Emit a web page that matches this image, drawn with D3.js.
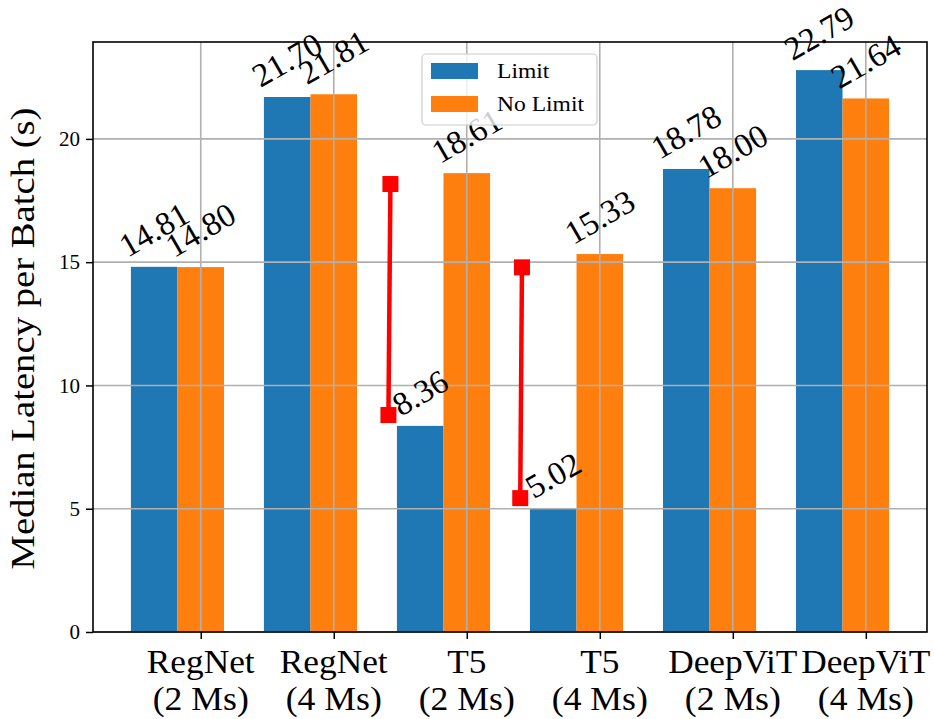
<!DOCTYPE html>
<html>
<head>
<meta charset="utf-8">
<script src="https://cdn.jsdelivr.net/npm/d3@7"></script>
<style>
  html, body { margin: 0; padding: 0; background: #fff; }
  svg text { font-family: "Liberation Serif", "Times New Roman", serif !important; fill: #000; }
</style>
</head>
<body>
<svg id="chart" width="934" height="719"></svg>
<script>
// ---- data ----
const categories = ["RegNet", "RegNet", "T5", "T5", "DeepViT", "DeepViT"];
const subLabels = ["(2 Ms)", "(4 Ms)", "(2 Ms)", "(4 Ms)", "(2 Ms)", "(4 Ms)"];
const seriesNames = ["Limit", "No Limit"];
const limitValues = [14.81, 21.70, 8.36, 5.02, 18.78, 22.79];
const noLimitValues = [14.80, 21.81, 18.61, 15.33, 18.00, 21.64];
const yTicks = [0, 5, 10, 15, 20];
// red annotation segments: [x_top, y_top, x_bottom, y_bottom] in data units
const redSegments = [
  [1.426, 18.17, 1.411, 8.80],
  [2.415, 14.79, 2.402, 5.43]
];

// ---- layout ----
const svg = d3.select("#chart");
const pL = 93, pR = 927, pT = 42, pB = 632;
const barW = 0.35;
const x = d3.scaleLinear().domain([-0.81, 5.46]).range([pL, pR]);
const y = d3.scaleLinear().domain([0, 23.93]).range([pB, pT]);
const colors = ["#1f77b4", "#ff7f0e"];
const series = [limitValues, noLimitValues];
const offsets = [-0.525, -0.175];
const FONT = '"Liberation Serif", "Times New Roman", serif';

// bars
series.forEach((vals, s) => {
  svg.append("g").selectAll("rect").data(vals).join("rect")
    .attr("x", (d, i) => x(i + offsets[s]))
    .attr("width", (d, i) => x(i + offsets[s] + barW) - x(i + offsets[s]))
    .attr("y", d => y(d))
    .attr("height", d => y(0) - y(d))
    .attr("fill", colors[s]);
});

// grid (drawn above bars)
const grid = svg.append("g");
grid.selectAll("line.gy").data(yTicks).join("line")
  .attr("x1", pL).attr("x2", pR)
  .attr("y1", d => y(d)).attr("y2", d => y(d))
  .attr("stroke", "#b0b0b0").attr("stroke-width", 1.6);
grid.selectAll("line.gx").data(categories.map((c, i) => i)).join("line")
  .attr("x1", d => x(d)).attr("x2", d => x(d))
  .attr("y1", pT).attr("y2", pB)
  .attr("stroke", "#b0b0b0").attr("stroke-width", 1.6);

// axes
const yAxis = d3.axisLeft(y).tickValues(yTicks).tickSize(7).tickPadding(6).tickFormat(d3.format("d"));
const gy = svg.append("g").attr("transform", `translate(${pL},0)`).call(yAxis)
  .attr("font-family", FONT).attr("font-size", 21);
gy.select(".domain").remove();
gy.selectAll(".tick line").attr("stroke", "#000").attr("stroke-width", 1.5);
gy.selectAll(".tick text").style("font-family", FONT).style("font-size", "21px");

const xAxis = d3.axisBottom(x).tickValues(categories.map((c, i) => i)).tickSize(7).tickFormat("");
const gx = svg.append("g").attr("transform", `translate(0,${pB})`).call(xAxis);
gx.select(".domain").remove();
gx.selectAll(".tick line").attr("stroke", "#000").attr("stroke-width", 1.5);

// x tick labels (two lines), slightly widened to mimic Computer Modern widths
const xl = svg.append("g");
function stretched(g, tx, ty, str, size, k) {
  const t = g.append("text").attr("x", tx).attr("y", ty).attr("text-anchor", "middle")
    .attr("font-size", size).text(str);
  const L = t.node().getComputedTextLength();
  t.attr("textLength", L * k).attr("lengthAdjust", "spacingAndGlyphs");
  return t;
}
categories.forEach((c, i) => {
  stretched(xl, x(i), 673, c, 33, 1.07);
  stretched(xl, x(i), 710, subLabels[i], 33, 1.08);
});

// frame
svg.append("rect").attr("x", pL).attr("y", pT)
  .attr("width", pR - pL).attr("height", pB - pT)
  .attr("fill", "none").attr("stroke", "#000").attr("stroke-width", 1.6);

// y label
svg.append("text")
  .attr("transform", `translate(23,${(107 + 570) / 2}) rotate(-90)`)
  .attr("text-anchor", "middle").attr("dominant-baseline", "central")
  .attr("font-size", 33).attr("textLength", 462).attr("lengthAdjust", "spacingAndGlyphs")
  .text("Median Latency per Batch (s)");

// value labels (rotated 30°)
const ang = 30 * Math.PI / 180;
const lab = svg.append("g");
const LFS = 33;
series.forEach((vals, s) => {
  vals.forEach((v, i) => {
    const cx = x(i + offsets[s] + barW / 2);
    const t = lab.append("text").attr("font-size", LFS)
      .attr("text-anchor", "middle").attr("dominant-baseline", "central")
      .text(v.toFixed(2));
    const L = t.node().getComputedTextLength();
    const h = 0.66 * LFS;
    const halfH = (L * Math.sin(ang) + h * Math.cos(ang)) / 2;
    const cy = y(v) - 9 - halfH;
    t.attr("transform", `translate(${cx},${cy}) rotate(-30)`);
  });
});

// red annotation segments
const red = svg.append("g");
redSegments.forEach(sg => {
  red.append("line")
    .attr("x1", x(sg[0])).attr("y1", y(sg[1]))
    .attr("x2", x(sg[2])).attr("y2", y(sg[3]))
    .attr("stroke", "#ff0000").attr("stroke-width", 4.5);
  [[sg[0], sg[1]], [sg[2], sg[3]]].forEach(p => {
    red.append("rect")
      .attr("x", x(p[0]) - 8).attr("y", y(p[1]) - 8)
      .attr("width", 16).attr("height", 16).attr("fill", "#ff0000");
  });
});

// legend
const lg = svg.append("g");
lg.append("rect").attr("x", 422).attr("y", 54).attr("width", 175).attr("height", 71)
  .attr("rx", 4).attr("fill", "#fff").attr("fill-opacity", 0.8)
  .attr("stroke", "#cccccc").attr("stroke-width", 1.2);
seriesNames.forEach((n, k) => {
  const yy = 63 + k * 33;
  lg.append("rect").attr("x", 431).attr("y", yy).attr("width", 47).attr("height", 16)
    .attr("fill", colors[k]);
  stretched(lg, 0, yy + 15, n, 22, 1.07).attr("text-anchor", "start").attr("x", 497);
});
</script>
</body>
</html>
